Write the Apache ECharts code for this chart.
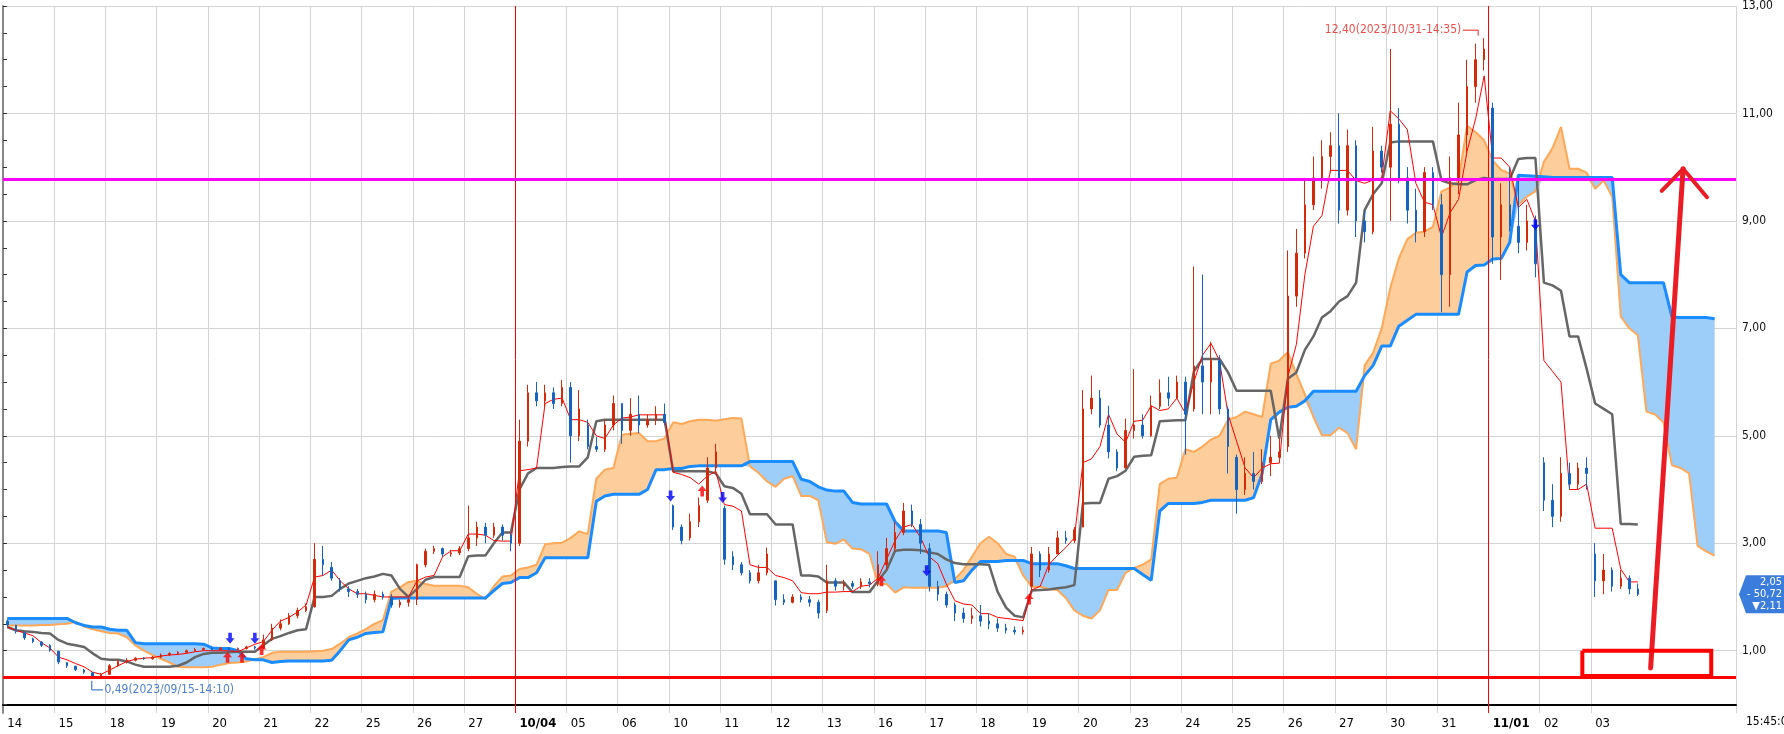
<!DOCTYPE html>
<html>
<head>
<meta charset="utf-8">
<script src="https://cdn.jsdelivr.net/npm/echarts@6/dist/echarts.min.js"></script>
<style>
html, body { margin: 0; padding: 0; background: #fff; }
#chart { width: 1784px; height: 734px; }
</style>
</head>
<body>
<div id="chart"></div>
<script>
// trading days shown on the axis
const dates = ['09/14','09/15','09/18','09/19','09/20','09/21','09/22','09/25','09/26','09/27',
  '10/04','10/05','10/06','10/10','10/11','10/12','10/13','10/16','10/17','10/18','10/19','10/20',
  '10/23','10/24','10/25','10/26','10/27','10/30','10/31','11/01','11/02','11/03'];
const slotsPerDay = 6;
const futureSlots = 11;

// [open, close, low, high] per slot
const candles = [
  [1.55,1.48,1.45,1.58],[1.47,1.36,1.32,1.48],[1.34,1.24,1.2,1.35],[1.22,1.17,1.14,1.24],[1.16,1.1,1.07,1.18],[1.1,1.01,0.98,1.12],
  [0.99,0.79,0.75,1.0],[0.78,0.72,0.68,0.79],[0.71,0.65,0.62,0.72],[0.64,0.6,0.57,0.66],[0.59,0.52,0.49,0.6],[0.52,0.56,0.5,0.58],
  [0.56,0.72,0.55,0.75],[0.72,0.8,0.7,0.83],[0.8,0.82,0.76,0.86],[0.82,0.86,0.8,0.88],[0.86,0.85,0.83,0.88],[0.85,0.88,0.83,0.9],
  [0.88,0.92,0.86,0.95],[0.92,0.95,0.9,0.97],[0.95,0.97,0.93,0.99],[0.97,1.0,0.95,1.02],[1.0,1.02,0.98,1.05],[1.02,1.04,1.0,1.06],
  [1.04,1.02,1.0,1.06],[1.02,1.05,1.0,1.07],[1.05,1.02,0.99,1.06],[1.02,1.04,1.0,1.06],[1.04,1.07,1.02,1.09],[1.07,1.05,1.02,1.09],
  [1.05,1.2,1.03,1.3],[1.2,1.42,1.18,1.5],[1.42,1.5,1.38,1.58],[1.5,1.65,1.48,1.7],[1.65,1.75,1.6,1.8],[1.75,1.82,1.72,1.88],
  [1.82,2.7,1.8,3.0],[2.7,2.6,2.4,2.95],[2.55,2.35,2.3,2.65],[2.3,2.15,2.1,2.35],[2.15,2.1,2.0,2.2],[2.1,2.05,1.98,2.15],
  [2.05,1.95,1.88,2.1],[1.95,2.05,1.9,2.12],[2.05,2.0,1.95,2.1],[2.0,1.85,1.8,2.05],[1.85,1.9,1.8,1.95],[1.9,1.95,1.82,2.0],
  [1.95,2.6,1.85,2.62],[2.6,2.85,2.55,2.9],[2.85,2.9,2.8,2.95],[2.9,2.8,2.75,2.92],[2.8,2.82,2.75,2.88],[2.82,2.9,2.78,2.95],
  [2.9,3.1,2.85,3.7],[3.1,3.3,2.95,3.4],[3.3,3.15,3.0,3.38],[3.15,3.3,3.1,3.38],[3.3,3.15,3.05,3.35],[3.15,3.0,2.85,3.2],
  [3.0,4.9,2.95,5.3],[4.9,5.8,4.8,5.95],[5.8,5.65,5.55,6.0],[5.65,5.8,5.5,5.95],[5.8,5.6,5.5,5.9],[5.6,5.9,5.55,6.04],
  [5.9,5.0,4.5,6.0],[5.0,5.5,4.9,5.85],[5.2,4.8,4.75,5.3],[4.8,4.75,4.7,4.98],[4.75,5.2,4.7,5.3],[5.2,5.6,5.1,5.75],
  [5.6,5.1,4.85,5.6],[5.1,5.4,5.0,5.7],[5.4,5.2,5.05,5.75],[5.2,5.3,5.15,5.4],[5.3,5.4,5.2,5.55],[5.4,5.25,5.2,5.6],
  [3.7,3.3,3.25,3.72],[3.3,3.05,2.98,3.35],[3.1,3.4,3.05,3.55],[3.4,3.7,3.3,3.85],[3.8,4.4,3.75,4.6],[4.4,4.7,4.3,4.85],
  [3.65,2.7,2.6,3.7],[2.75,2.6,2.5,2.85],[2.6,2.45,2.4,2.65],[2.45,2.3,2.25,2.5],[2.3,2.45,2.25,2.6],[2.45,2.8,2.4,2.92],
  [2.3,1.95,1.84,2.3],[1.95,1.9,1.85,2.05],[1.9,2.0,1.88,2.05],[2.0,1.95,1.9,2.05],[1.95,1.9,1.82,2.02],[1.9,1.7,1.6,1.95],
  [1.75,2.3,1.7,2.6],[2.3,2.2,2.12,2.35],[2.2,2.25,2.12,2.32],[2.25,2.2,2.15,2.3],[2.2,2.28,2.15,2.35],[2.28,2.25,2.18,2.35],
  [2.25,2.6,2.2,2.85],[2.6,2.9,2.5,3.1],[2.9,3.2,2.85,3.4],[3.2,3.6,3.15,3.75],[3.6,3.35,3.3,3.72],[3.35,3.0,2.8,3.45],
  [2.9,2.2,2.1,3.0],[2.2,2.05,1.93,2.3],[2.05,1.85,1.8,2.1],[1.85,1.7,1.55,1.9],[1.7,1.6,1.52,1.8],[1.6,1.65,1.5,1.8],
  [1.65,1.55,1.45,1.85],[1.55,1.5,1.4,1.7],[1.5,1.42,1.35,1.6],[1.42,1.38,1.32,1.5],[1.38,1.35,1.3,1.45],[1.35,1.38,1.3,1.45],
  [2.2,2.8,2.13,2.93],[2.8,2.5,2.37,2.85],[2.5,2.8,2.45,2.93],[2.8,3.1,2.8,3.23],[3.1,3.05,2.99,3.23],[3.05,3.25,3.0,3.3],
  [3.3,5.5,3.3,5.85],[5.5,5.7,5.4,6.12],[5.7,5.2,5.15,5.85],[5.2,4.7,4.58,5.56],[4.7,4.4,4.34,4.75],[4.4,5.1,4.4,5.32],
  [5.1,5.2,4.95,6.24],[5.2,5.0,4.95,5.4],[5.0,5.55,4.98,5.75],[5.55,5.8,5.5,6.05],[5.8,5.7,5.55,6.1],[5.7,6.0,5.7,6.12],
  [6.0,5.4,4.65,6.1],[5.5,6.3,5.45,8.15],[6.3,6.0,5.4,8.0],[6.0,6.4,5.4,6.75],[6.4,5.5,5.4,6.5],[5.5,4.8,4.3,5.55],
  [4.6,4.0,3.55,4.65],[4.0,4.3,3.9,4.6],[4.3,4.15,4.0,4.7],[4.15,4.5,4.1,4.75],[4.5,4.6,4.25,5.0],[4.6,4.7,4.5,4.95],
  [4.8,7.6,4.7,8.45],[7.6,8.4,7.4,8.85],[8.4,9.3,8.3,9.8],[9.3,9.8,9.2,10.2],[9.8,10.2,9.6,10.5],[10.2,10.4,9.9,10.65],
  [10.4,9.2,8.95,11.0],[9.2,10.4,9.1,10.7],[10.4,9.0,8.7,10.5],[9.0,8.8,8.6,9.2],[8.8,10.3,8.75,10.75],[10.3,10.0,9.9,10.4],
  [10.0,10.8,9.0,12.2],[10.8,9.8,9.7,11.1],[9.8,9.2,8.95,10.0],[9.2,8.8,8.6,9.6],[8.8,9.9,8.7,10.0],[9.9,9.3,9.2,10.0],
  [9.3,8.0,7.3,9.5],[8.0,9.8,7.4,10.2],[9.8,10.6,9.5,11.2],[10.6,11.5,10.2,12.0],[11.5,12.0,11.2,12.3],[12.0,12.2,11.8,12.4],
  [11.1,8.7,8.2,11.2],[8.7,9.3,7.9,9.7],[9.3,8.9,8.8,10.0],[8.9,8.6,8.4,9.8],[8.6,9.0,8.45,9.3],[9.0,8.2,7.95,9.1],
  [4.5,3.8,3.6,4.6],[3.8,3.5,3.3,4.1],[3.5,4.3,3.4,4.6],[4.3,4.1,4.0,4.5],[4.1,4.4,4.0,4.5],[4.4,4.3,4.0,4.6],
  [2.8,2.3,2.0,3.0],[2.3,2.5,2.05,2.8],[2.5,2.2,2.1,2.55],[2.2,2.35,2.15,2.5],[2.35,2.15,2.05,2.4],[2.15,2.05,2.02,2.25]
];

// conversion line (red)
const tenkan = [
  1.44,1.38,1.33,1.28,1.15,1.05, 0.88,0.83,0.76,0.7,0.6,0.56, 0.64,0.72,0.8,0.84,0.86,0.87,
  0.9,0.92,0.93,0.95,0.98,1.0, 1.0,1.0,1.0,0.98,1.05,1.12, 1.17,1.38,1.55,1.62,1.72,1.85,
  2.37,2.4,2.5,2.3,2.15,2.06, 2.06,2.03,2.0,2.0,2.0,2.0, 2.3,2.37,2.4,2.75,2.86,2.86,
  3.17,3.17,3.15,3.05,3.04,3.04, 4.35,4.37,4.4,5.6,5.68,5.7, 5.3,5.3,5.25,5.0,4.95,5.2,
  5.33,5.35,5.39,5.39,5.39,5.39, 4.32,4.28,4.22,4.1,4.25,4.34, 3.72,3.69,3.6,2.6,2.55,2.55,
  2.4,2.36,2.3,2.08,2.06,2.06, 2.09,2.09,2.1,2.1,2.2,2.22, 2.35,2.7,3.05,3.3,3.35,3.1,
  2.75,2.62,2.24,1.93,1.87,1.85, 1.69,1.69,1.62,1.6,1.58,1.56, 2.13,2.2,2.6,2.77,2.92,3.1,
  4.5,4.57,4.8,5.4,5.03,4.88, 5.27,5.29,5.56,5.47,5.5,5.7, 5.42,6.0,6.5,6.72,6.4,5.4,
  4.9,4.4,4.22,4.4,4.48,4.49, 6.1,6.7,8.0,8.9,9.1,9.94, 9.94,9.94,9.75,9.7,9.76,9.8,
  11.05,10.9,10.7,9.7,9.35,9.3, 8.7,9.15,9.4,10.3,10.9,11.7, 10.17,10.17,10.0,9.25,9.4,9.0,
  6.4,6.2,6.0,4.0,4.0,4.1, 3.28,3.28,3.28,2.52,2.28,2.28
];

// base line (grey)
const kijun = [
  1.44,1.38,1.36,1.35,1.33,1.32, 1.2,1.13,1.1,1.07,0.95,0.85, 0.83,0.83,0.8,0.74,0.7,0.7,
  0.7,0.7,0.72,0.78,0.88,0.94, 0.96,0.96,0.97,0.98,0.98,0.98, 1.1,1.22,1.27,1.33,1.38,1.4,
  2.0,2.0,2.02,2.15,2.25,2.3, 2.35,2.38,2.43,2.4,2.15,2.0, 2.15,2.32,2.37,2.37,2.37,2.37,
  2.76,2.77,2.77,3.0,3.2,3.2, 4.0,4.3,4.4,4.4,4.4,4.42, 4.43,4.43,4.6,5.27,5.3,5.3,
  5.3,5.3,5.3,5.3,5.3,5.3, 4.34,4.34,4.34,4.34,4.34,4.3, 4.06,4.03,3.92,3.54,3.54,3.54,
  3.35,3.35,3.35,2.4,2.4,2.38, 2.27,2.27,2.27,2.09,2.09,2.09, 2.3,2.5,2.86,2.88,2.88,2.87,
  2.83,2.8,2.7,2.63,2.61,2.61, 2.61,2.6,2.1,1.8,1.65,1.62, 2.12,2.13,2.14,2.16,2.18,2.22,
  3.74,3.75,3.75,4.2,4.25,4.35, 4.61,4.63,4.64,5.27,5.28,5.29, 5.29,6.2,6.43,6.43,6.43,6.18,
  5.84,5.84,5.84,5.84,5.84,4.95, 6.06,6.18,6.6,6.85,7.2,7.32, 7.5,7.6,7.85,9.2,9.5,9.7,
  10.46,10.48,10.48,10.48,10.48,10.48, 9.75,9.7,9.68,9.68,9.76,9.8, 9.78,9.78,9.78,10.15,10.17,10.17,
  7.85,7.8,7.7,6.85,6.85,6.25, 5.6,5.5,5.4,3.36,3.36,3.35
];

// leading span 1 (orange edge)
const spanA = [
  1.47,1.47,1.47,1.47,1.48,1.48, 1.49,1.5,1.54,1.45,1.4,1.36, 1.33,1.32,1.25,1.1,1.0,0.92,
  0.85,0.78,0.7,0.69,0.69,0.69, 0.7,0.74,0.77,0.78,0.8,0.84, 0.88,0.96,0.98,0.98,0.98,0.98,
  0.99,1.0,1.03,1.13,1.25,1.32, 1.4,1.5,1.57,2.1,2.18,2.28, 2.3,2.24,2.21,2.21,2.21,2.21,
  2.18,2.06,1.96,2.2,2.38,2.4, 2.52,2.55,2.6,2.98,3.0,3.01, 3.1,3.22,3.17,4.2,4.37,4.4,
  5.02,5.04,5.05,4.9,4.9,4.95, 5.25,5.22,5.27,5.3,5.3,5.28, 5.31,5.33,5.32,4.43,4.31,4.15,
  4.05,4.2,4.25,3.88,3.88,3.8, 3.02,2.99,3.07,2.9,2.89,2.8, 2.24,2.24,2.08,2.18,2.17,2.17,
  2.17,2.17,2.2,2.33,2.5,2.75, 3.0,3.12,3.0,2.8,2.75,2.4, 2.19,2.19,2.15,2.13,1.98,1.75,
  1.65,1.6,1.75,2.13,2.13,2.45, 2.54,2.6,2.7,4.1,4.2,4.22, 4.75,4.7,4.8,4.93,5.0,5.3,
  5.35,5.45,5.4,5.35,6.34,6.4, 6.56,6.15,5.77,5.35,5.01,5.01, 5.15,5.05,4.75,6.31,6.55,7.0,
  7.75,8.3,8.66,8.78,8.8,8.89, 9.55,9.62,9.75,10.77,10.65,10.5, 10.12,9.95,9.88,9.3,9.45,9.55,
  10.1,10.35,10.75,9.97,9.97,9.9, 9.6,9.75,9.45,7.22,7.0,6.87, 5.45,5.4,5.25,4.45,4.4,4.3,
  2.95,2.85,2.77
];

// leading span 2 (blue edge)
const spanB = [
  1.6,1.6,1.6,1.6,1.6,1.6, 1.6,1.6,1.52,1.47,1.44,1.44, 1.4,1.38,1.38,1.15,1.13,1.13,
  1.13,1.13,1.13,1.13,1.13,1.12, 1.05,1.04,1.04,1.0,0.85,0.83, 0.83,0.78,0.8,0.81,0.81,0.81,
  0.81,0.81,0.82,1.0,1.2,1.25, 1.32,1.34,1.35,1.97,1.98,1.98, 1.98,1.98,1.98,1.98,1.98,1.98,
  1.98,1.98,1.98,2.12,2.25,2.27, 2.36,2.36,2.45,2.73,2.73,2.73, 2.73,2.73,2.73,3.78,3.88,3.91,
  3.91,3.91,3.91,4.0,4.37,4.37, 4.39,4.39,4.43,4.44,4.44,4.44, 4.44,4.44,4.44,4.52,4.52,4.52,
  4.52,4.52,4.52,4.19,4.15,4.05, 3.99,3.97,3.97,3.76,3.73,3.73, 3.73,3.73,3.4,3.23,3.23,3.23,
  3.23,3.23,3.2,2.27,2.3,2.5, 2.66,2.66,2.66,2.68,2.68,2.68, 2.62,2.62,2.62,2.62,2.58,2.53,
  2.53,2.53,2.53,2.53,2.53,2.53, 2.53,2.42,2.31,3.6,3.74,3.74, 3.74,3.74,3.76,3.8,3.8,3.8,
  3.8,3.8,3.85,4.3,5.3,5.44, 5.53,5.55,5.65,5.83,5.83,5.83, 5.83,5.83,5.83,6.12,6.31,6.67,
  6.67,7.04,7.15,7.26,7.26,7.26, 7.26,7.26,7.26,8.05,8.17,8.18, 8.29,8.3,8.6,9.85,9.84,9.83,
  9.82,9.81,9.81,9.81,9.81,9.81, 9.81,9.81,9.81,8.0,7.85,7.85, 7.85,7.85,7.85,7.21,7.2,7.2,
  7.2,7.2,7.18
];

// signal arrows, x in slot units
const sellSignals = [[26.6,1.23],[29.5,1.23],[78.2,3.88],[84.3,3.85],[108.2,2.49],[179.5,8.93]];
const buySignals = [[26.3,0.88],[28.0,0.88],[30.3,1.02],[81.9,3.97],[102.9,2.3],[120.2,1.96]];

const yLabels = [1, 3, 5, 7, 9, 11, 13];
const resistance = 9.78;
const support = 0.5;

// hand drawn marks, x in slot units
const arrowShaft = [[193.0,0.68],[196.8,9.97]];
const arrowHead = [[194.3,9.56],[196.8,9.97],[199.6,9.44]];
const targetBox = [[185.0,1.0],[200.1,1.0],[200.1,0.53],[185.0,0.53],[185.0,1.0]];
const highMark = [[171.0,12.55],[172.8,12.55],[172.8,12.45]];
const lowMark = [[10.4,0.44],[10.4,0.27],[11.7,0.27]];
const highText = '12,40(2023/10/31-14:35)';
const lowText = '0,49(2023/09/15-14:10)';
const lastTag = ['2,05', '- 50,72', '▼2,11'];
const closeTime = '15:45:0';

const font = "'Liberation Sans Narrow','DejaVu Sans Condensed','Noto Sans',sans-serif";

const categories = [];
dates.forEach(d => { for (let j = 0; j < slotsPerDay; j++) categories.push(d + '#' + j); });
for (let k = 1; k <= futureSlots; k++) categories.push('+#' + k);
const nSlots = categories.length;

const isDayStart = (i, v) => String(v).endsWith('#0');
function dayLabel(v) {
  const d = String(v).split('#')[0];
  const i = dates.indexOf(d);
  if (i > 0 && d.slice(0, 2) !== dates[i - 1].slice(0, 2)) return '{b|' + d + '}';
  return d.slice(3);
}
const monthLines = [];
dates.forEach((d, i) => {
  if (i > 0 && d.slice(0, 2) !== dates[i - 1].slice(0, 2)) monthLines.push({ xAxis: i * slotsPerDay });
});

const cloudLow = spanA.map((a, i) => Math.min(a, spanB[i]));
const cloudUp = spanA.map((a, i) => Math.max(a - spanB[i], 0));
const cloudDown = spanA.map((a, i) => Math.max(spanB[i] - a, 0));

const yTicks = [];
for (let v = 0; v <= 13; v += 0.5) yTicks.push(v);

const downArrow = 'path://M3,0H7V6H10L5,12L0,6H3Z';
const upArrow = 'path://M5,0L10,6H7V12H3V6H0Z';

const chart = echarts.init(document.getElementById('chart'));
const hidden = { showSymbol: false, symbol: 'none', silent: true };

const option = {
  animation: false,
  backgroundColor: '#fff',
  grid: { left: 3, right: 48, top: 0, bottom: 21 },
  xAxis: [
    {
      type: 'category',
      data: categories,
      boundaryGap: true,
      axisLine: { lineStyle: { color: '#000', width: 2 } },
      axisTick: { interval: isDayStart, length: 5, lineStyle: { color: '#000' } },
      axisLabel: {
        interval: isDayStart,
        formatter: dayLabel,
        align: 'left',
        margin: 4,
        color: '#000',
        fontSize: 13,
        fontFamily: font,
        rich: { b: { fontWeight: 'bold', fontSize: 13, fontFamily: font, color: '#000' } }
      },
      splitLine: { show: true, interval: isDayStart, lineStyle: { color: '#d4d4d4', width: 1 } }
    },
    { type: 'value', min: 0, max: nSlots, show: false }
  ],
  yAxis: {
    type: 'value',
    position: 'right',
    min: -0.16,
    max: 13,
    axisLine: { show: true, lineStyle: { color: '#888', width: 2 } },
    axisTick: { show: true, length: 4, customValues: yTicks, lineStyle: { color: '#333' } },
    axisLabel: {
      customValues: yLabels,
      formatter: v => v.toFixed(2).replace('.', ','),
      color: '#111',
      fontSize: 12,
      fontFamily: font,
      margin: 6
    },
    splitLine: { show: false }
  },
  series: [
    {
      type: 'line', data: [], ...hidden, z: 0,
      markLine: {
        silent: true, symbol: 'none', z: 0, label: { show: false },
        lineStyle: { color: '#d4d4d4', width: 1, type: 'solid' },
        data: yLabels.map(v => ({ yAxis: v }))
      }
    },
    { name: 'cloudBaseUp', type: 'line', data: cloudLow, stack: 'up', ...hidden, lineStyle: { opacity: 0 }, z: 1 },
    { name: 'cloudUp', type: 'line', data: cloudUp, stack: 'up', ...hidden, lineStyle: { opacity: 0 }, areaStyle: { color: '#fdcd9b', opacity: 1 }, z: 1 },
    { name: 'cloudBaseDown', type: 'line', data: cloudLow, stack: 'down', ...hidden, lineStyle: { opacity: 0 }, z: 1 },
    { name: 'cloudDown', type: 'line', data: cloudDown, stack: 'down', ...hidden, lineStyle: { opacity: 0 }, areaStyle: { color: '#9dcdf9', opacity: 1 }, z: 1 },
    { name: 'spanA', type: 'line', data: spanA, ...hidden, lineStyle: { color: '#ffa858', width: 2 }, z: 2 },
    { name: 'spanB', type: 'line', data: spanB, ...hidden, lineStyle: { color: '#1a8cff', width: 3 }, z: 2 },
    {
      type: 'line', xAxisIndex: 1, data: [], ...hidden, z: 3,
      markLine: {
        silent: true, symbol: 'none', z: 3, label: { show: false },
        lineStyle: { color: '#ff0000', width: 1, type: 'solid' },
        data: monthLines
      }
    },
    { name: 'kijun', type: 'line', data: kijun, ...hidden, lineStyle: { color: '#666666', width: 2.5 }, z: 3 },
    { name: 'tenkan', type: 'line', data: tenkan, ...hidden, lineStyle: { color: '#ff0000', width: 1 }, z: 3 },
    {
      name: 'price', type: 'candlestick', data: candles, barMaxWidth: 2, silent: true, z: 4,
      itemStyle: { color: '#d42a0a', color0: '#1565c0', borderColor: '#d42a0a', borderColor0: '#1565c0', borderWidth: 1 }
    },
    {
      type: 'scatter', xAxisIndex: 1, data: sellSignals, symbol: downArrow, symbolSize: [9, 11],
      itemStyle: { color: '#0000ff' }, silent: true, z: 5
    },
    {
      type: 'scatter', xAxisIndex: 1, data: buySignals, symbol: upArrow, symbolSize: [9, 11],
      itemStyle: { color: '#ff0000' }, silent: true, z: 5
    },
    {
      type: 'line', data: [], ...hidden, z: 6,
      markLine: {
        silent: true, symbol: 'none', z: 6, label: { show: false },
        data: [
          { yAxis: resistance, lineStyle: { color: '#ff00ff', width: 3, type: 'solid' } },
          { yAxis: support, lineStyle: { color: '#ff0000', width: 3, type: 'solid' } }
        ]
      }
    },
    { type: 'line', xAxisIndex: 1, data: highMark, ...hidden, lineStyle: { color: '#e8231f', width: 1 }, z: 7 },
    { type: 'line', xAxisIndex: 1, data: lowMark, ...hidden, lineStyle: { color: '#2060c0', width: 1 }, z: 7 },
    {
      type: 'scatter', xAxisIndex: 1, data: [highMark[0]], symbolSize: 1, itemStyle: { color: 'rgba(0,0,0,0)' }, silent: true, z: 7,
      label: { show: true, position: 'left', distance: 1, formatter: highText, color: '#e8231f', fontSize: 12, fontFamily: font }
    },
    {
      type: 'scatter', xAxisIndex: 1, data: [lowMark[2]], symbolSize: 1, itemStyle: { color: 'rgba(0,0,0,0)' }, silent: true, z: 7,
      label: { show: true, position: 'right', distance: 1, formatter: lowText, color: '#2060c0', fontSize: 12, fontFamily: font }
    },
    { type: 'line', xAxisIndex: 1, data: arrowShaft, ...hidden, lineStyle: { color: '#ec1c24', width: 5, cap: 'round' }, z: 10 },
    { type: 'line', xAxisIndex: 1, data: arrowHead, ...hidden, lineStyle: { color: '#ec1c24', width: 4, cap: 'round', join: 'round' }, z: 10 },
    { type: 'line', xAxisIndex: 1, data: targetBox, ...hidden, lineStyle: { color: '#ff0000', width: 4, join: 'miter' }, z: 10 }
  ]
};
chart.setOption(option);

// last-price tag on the value axis
const lastClose = candles[candles.length - 1][1];
const py = chart.convertToPixel({ yAxisIndex: 0 }, lastClose);
chart.setOption({
  graphic: [
    {
      type: 'polygon',
      shape: { points: [[1739, py], [1746, py - 19], [1784, py - 19], [1784, py + 19], [1746, py + 19]] },
      style: { fill: '#3b7ddd' }, z: 20
    },
    {
      type: 'text', x: 1782, y: py - 18, z: 21,
      style: { text: lastTag.join('\n'), fill: '#fff', font: '11px ' + font, align: 'right', verticalAlign: 'top', lineHeight: 12 }
    },
    {
      type: 'text', x: 1746, y: 716, z: 21,
      style: { text: closeTime, fill: '#000', font: '12px ' + font, align: 'left', verticalAlign: 'top' }
    }
  ]
});
</script>
</body>
</html>
